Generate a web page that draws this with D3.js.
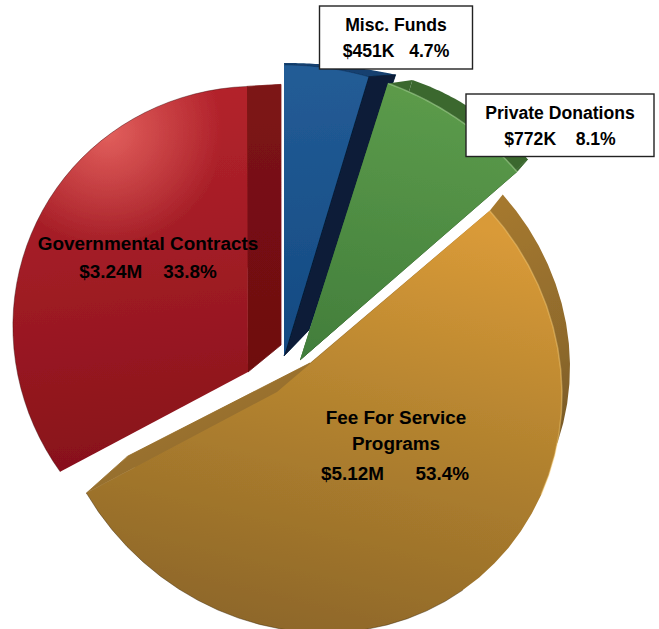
<!DOCTYPE html>
<html><head><meta charset="utf-8">
<script src="https://cdn.jsdelivr.net/npm/d3@7"></script>
<style>html,body{margin:0;padding:0;background:#fff}svg{display:block}
text{font-family:"Liberation Sans",Arial,sans-serif;font-weight:700;fill:#000;text-anchor:middle}</style>
</head><body><div id="chart"></div>
<script>
// ---- data ----
const categories = ["Misc. Funds", "Private Donations", "Fee For Service Programs", "Governmental Contracts"];
const values = [451, 772, 5120, 3240];            // $K
const amountLabels = ["$451K", "$772K", "$5.12M", "$3.24M"];
const percentLabels = ["4.7%", "8.1%", "53.4%", "33.8%"];

// ---- projection of each exploded, tilted slice ----
const faceRims = [
  {cx:284,a:290,b:0,cy:335,c:0,d:270,apex:[284,356]},
  {cx:276,a:315,b:-21,cy:375,c:17,d:310,apex:[300,360]},
  {cx:305,a:257,b:0,cy:375,c:20,d:257,apex:[277,392]},
  {cx:264.5,a:251,b:17.5,cy:333.4,c:-10,d:247,apex:[248,372]}
];
const backRims = [
  {cx:284,a:383,b:0,cy:333,c:0,d:270,apex:[309,330]},
  {cx:302,a:287,b:-28,cy:366.5,c:2,d:300,apex:[340,325]},
  {cx:331,a:239,b:0,cy:347,c:20,d:240,apex:[310,363]},
  {cx:298.5,a:251,b:17.5,cy:331.4,c:-10,d:247,apex:[281,345]}
];
const backFrom = [0,0,0,32];
const faceFill = ["url(#gBlue)","url(#gGreen)","url(#gGold)","url(#gRed)"];
const backFill = ["#13406f","#3a682f","url(#sGold)","url(#sRed)"];
const startBridge = ["#13406f","#3a682f",null,null];
const endBridge = ["#071d37","#3a682f","url(#sGold)","url(#sRed)"];
const rimTint  = [null,"rgba(190,230,170,.45)","rgba(255,215,130,.4)",null];
const rimShare = [0,1,.35,0];
const edgeTint = ["rgba(10,30,60,.3)",null,"rgba(60,40,10,.45)","rgba(60,15,15,.4)"];
const edgeFrom = [0,0,20,0];
const drawOrder = [3,0,1,2];

const W = 659, H = 629;
const svg = d3.select("#chart").append("svg").attr("width",W).attr("height",H).attr("viewBox",`0 0 ${W} ${H}`);
const defs = svg.append("defs");
defs.append("filter").attr("id","soft").attr("filterUnits","userSpaceOnUse")
  .attr("x",0).attr("y",0).attr("width",W).attr("height",H)
  .append("feGaussianBlur").attr("stdDeviation",.4);
const marks = svg.append("g").attr("filter","url(#soft)");
const labels = svg.append("g");
function grad(id,x1,y1,x2,y2,stops){
  const g = defs.append("linearGradient").attr("id",id).attr("gradientUnits","userSpaceOnUse")
    .attr("x1",x1).attr("y1",y1).attr("x2",x2).attr("y2",y2);
  stops.forEach(s=>g.append("stop").attr("offset",s[0]).attr("stop-color",s[1]));
}
grad("gGold",400,210,300,630,[[0,"#d99a38"],[.45,"#b5842f"],[1,"#8f6829"]]);
grad("gRed",130,90,170,470,[[0,"#b4232c"],[.45,"#a11c25"],[1,"#87101a"]]);
grad("gGreen",380,90,330,350,[[0,"#5b9a4a"],[1,"#437f3c"]]);
grad("gBlue",290,70,310,350,[[0,"#235c96"],[1,"#144a82"]]);
grad("sGold",400,195,560,560,[[0,"#ac7d30"],[.5,"#8f6a2c"],[1,"#5b4520"]]);
grad("sRed",0,84,0,372,[[0,"#7d1414"],[1,"#6e0a10"]]);
const hi = defs.append("radialGradient").attr("id","hiRed").attr("gradientUnits","userSpaceOnUse")
  .attr("cx",108).attr("cy",132).attr("r",115);
hi.append("stop").attr("offset",0).attr("stop-color","#f77a72").attr("stop-opacity",.7);
hi.append("stop").attr("offset",1).attr("stop-color","#f77a72").attr("stop-opacity",0);

const arcs = d3.pie().sort(null).startAngle(0).endAngle(2*Math.PI)(values);
const line = d3.line();
const rimPoints = (m,arc) => d3.range(0,41).map(i=>{
  const t = arc.startAngle+(arc.endAngle-arc.startAngle)*i/40;
  const s = Math.sin(t), u = -Math.cos(t);
  return [m.cx+m.a*s+m.b*u, m.cy+m.c*s+m.d*u];
});

drawOrder.forEach(i=>{
  const arc = arcs[i], f = faceRims[i], b = backRims[i];
  const fr = rimPoints(f,arc), br = rimPoints(b,arc);
  const g = marks.append("g").attr("class","slice").attr("data-name",categories[i]);
  // the fee slice's back face meets its front corner, so the upper edge stays a single line
  const backPts = i===2 ? [b.apex,fr[0],...br] : [b.apex,...br.slice(backFrom[i])];
  g.append("path").attr("fill",backFill[i]).attr("d",line(backPts)+"Z");
  if(startBridge[i]) g.append("path").attr("fill",startBridge[i]).attr("d",line([f.apex,fr[0],br[0],b.apex])+"Z");
  g.append("path").attr("fill",endBridge[i]).attr("stroke",endBridge[i]).attr("stroke-width",.8)
    .attr("d",line([f.apex,fr[40],br[40],b.apex])+"Z");
  g.append("path").attr("fill",faceFill[i]).attr("d",line([f.apex,...fr])+"Z");
  if(i===3) g.append("path").attr("fill","url(#hiRed)").attr("d",line([f.apex,...fr])+"Z");
  if(rimTint[i]) g.append("path").attr("fill","none").attr("stroke",rimTint[i]).attr("stroke-width",1.5)
    .attr("d",line(fr.slice(0,Math.round(40*rimShare[i])+1)));
  if(edgeTint[i]) g.append("path").attr("fill","none").attr("stroke",edgeTint[i]).attr("stroke-width",1)
    .attr("d",line(fr.slice(edgeFrom[i])));
});

// ---- labels ----
function box(x,y,w,h){labels.append("rect").attr("x",x).attr("y",y).attr("width",w).attr("height",h)
  .attr("fill","#fff").attr("stroke","#222").attr("stroke-width",1.4);}
function label(x,y,t,size){labels.append("text").attr("x",x).attr("y",y).attr("font-size",size)
  .style("white-space","pre").text(t);}
const boxSize = 17.6, pieSize = 18.9;
box(319.5,6,153,63);
label(396,31,categories[0],boxSize);
label(396,57,`${amountLabels[0]}   ${percentLabels[0]}`,boxSize);
box(466,94,188,62.5);
label(560,119,categories[1],boxSize);
label(560,145,`${amountLabels[1]}    ${percentLabels[1]}`,boxSize);
label(148,250,categories[3],pieSize);
label(148,278,`${amountLabels[3]}    ${percentLabels[3]}`,pieSize);
label(396,424,"Fee For Service",pieSize);
label(396,450,"Programs",pieSize);
label(395,480,`${amountLabels[2]}      ${percentLabels[2]}`,pieSize);
</script></body></html>
